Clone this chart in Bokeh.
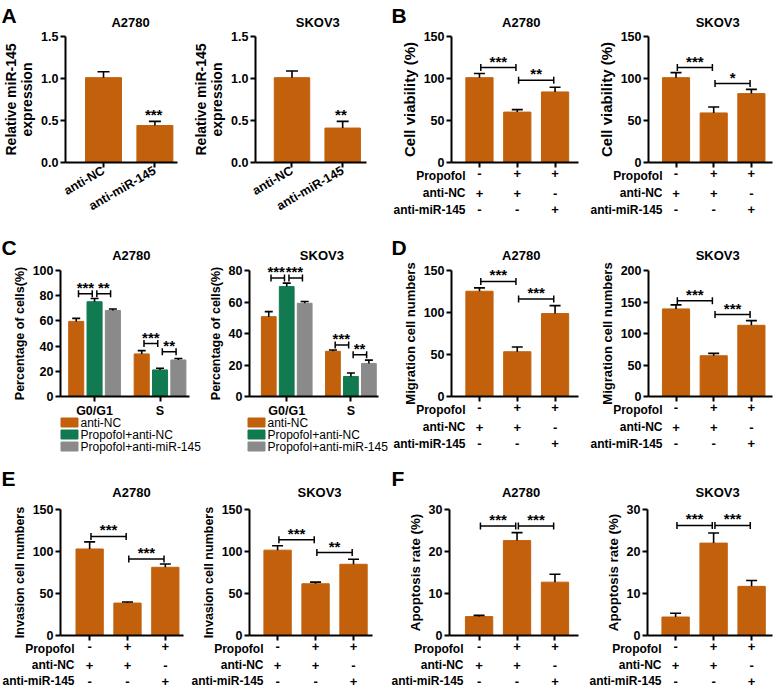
import math
from bokeh.plotting import figure
from bokeh.layouts import row, column
from bokeh.models import Range1d, FixedTicker, ColumnDataSource, NumeralTickFormatter
from bokeh.core.properties import value
from bokeh.embed import file_html
from bokeh.resources import INLINE

FONT = "Liberation Sans"
ORANGE = "#C2600C"
GREEN = "#127A50"
GREY = "#8A8A8A"

# ---------------- data ----------------
TREAT_ROWS = ["Propofol", "anti-NC", "anti-miR-145"]
PROPOFOL = ["-", "+", "+"]
ANTI_NC = ["+", "+", "-"]
ANTI_MIR = ["-", "-", "+"]

# A: relative miR-145 expression
A_GROUPS = ["anti-NC", "anti-miR-145"]
A_TICKS = [0, 0.5, 1.0, 1.5]
A_A2780 = [1.01, 0.44]
A_A2780_ERR = [0.07, 0.05]
A_A2780_SIG = ["", "***"]
A_SKOV3 = [1.01, 0.41]
A_SKOV3_ERR = [0.08, 0.08]
A_SKOV3_SIG = ["", "**"]

# B: cell viability (%)
B_TICKS = [0, 50, 100, 150]
B_A2780 = [101, 60, 84]
B_A2780_ERR = [5, 3, 5.5]
B_A2780_BR = [(0, 1, 113, "***"), (1, 2, 98, "**")]
B_SKOV3 = [101, 59, 82]
B_SKOV3_ERR = [6, 7, 5]
B_SKOV3_BR = [(0, 1, 113, "***"), (1, 2, 94, "*")]

# C: cell cycle distribution
C_PHASES = ["G0/G1", "S"]
C_SERIES = ["anti-NC", "Propofol+anti-NC", "Propofol+anti-miR-145"]
C_COLORS = [ORANGE, GREEN, GREY]
C_A2780_TICKS = [0, 20, 40, 60, 80, 100]
C_A2780_NC = [59.6, 33.8]
C_A2780_NC_ERR = [2.4, 2.6]
C_A2780_PNC = [75.2, 21.1]
C_A2780_PNC_ERR = [2.6, 1.3]
C_A2780_PMIR = [68.3, 29.0]
C_A2780_PMIR_ERR = [1.1, 1.1]
C_A2780_BR = [(0, 0, 1, 81.5, "***"), (0, 1, 2, 81.5, "**"),
              (1, 0, 1, 42.0, "***"), (1, 1, 2, 35.6, "**")]
C_SKOV3_TICKS = [0, 20, 40, 60, 80]
C_SKOV3_NC = [50.7, 28.7]
C_SKOV3_NC_ERR = [3.2, 0.8]
C_SKOV3_PNC = [69.8, 12.7]
C_SKOV3_PNC_ERR = [2.2, 2.2]
C_SKOV3_PMIR = [59.2, 21.0]
C_SKOV3_PMIR_ERR = [1.1, 2.1]
C_SKOV3_BR = [(0, 0, 1, 75.2, "***"), (0, 1, 2, 75.2, "***"),
              (1, 0, 1, 32.7, "***"), (1, 1, 2, 26.5, "**")]

# D: migration
D_A2780_TICKS = [0, 50, 100, 150]
D_A2780 = [125.3, 53.3, 98.7]
D_A2780_ERR = [4.0, 5.6, 9.5]
D_A2780_BR = [(0, 1, 137, "***"), (1, 2, 116, "***")]
D_SKOV3_TICKS = [0, 50, 100, 150, 200]
D_SKOV3 = [139, 64.7, 113]
D_SKOV3_ERR = [6.4, 3.7, 7.4]
D_SKOV3_BR = [(0, 1, 152, "***"), (1, 2, 130, "***")]

# E: invasion
E_TICKS = [0, 50, 100, 150]
E_A2780 = [103, 38.6, 81.2]
E_A2780_ERR = [8.4, 1.2, 4.0]
E_A2780_BR = [(0, 1, 118, "***"), (1, 2, 91, "***")]
E_SKOV3 = [101.6, 61.6, 84.8]
E_SKOV3_ERR = [5.2, 2.0, 6.0]
E_SKOV3_BR = [(0, 1, 114, "***"), (1, 2, 98.8, "**")]

# F: apoptosis
F_TICKS = [0, 10, 20, 30]
F_A2780 = [4.5, 22.6, 12.7]
F_A2780_ERR = [0.3, 1.9, 1.9]
F_A2780_BR = [(0, 1, 26.1, "***"), (1, 2, 26.1, "***")]
F_SKOV3 = [4.4, 22.0, 11.7]
F_SKOV3_ERR = [0.9, 2.4, 1.4]
F_SKOV3_BR = [(0, 1, 26.2, "***"), (1, 2, 26.2, "***")]

# ---------------- helpers ----------------
GAP = 0.035


def make_fig(geom, xr, yticks, ylabel, ylabel_size, yfmt=None):
    w, h, left, right, top, bottom = geom
    p = figure(width=w, height=h, x_range=Range1d(*xr), y_range=Range1d(0, yticks[-1]),
               output_backend="svg", toolbar_location=None, frame_align=False,
               min_border_left=left, min_border_right=right,
               min_border_top=top, min_border_bottom=bottom)
    p.outline_line_color = None
    p.background_fill_color = None
    p.border_fill_color = None
    p.grid.visible = False
    p.yaxis.ticker = FixedTicker(ticks=yticks)
    if yfmt:
        p.yaxis.formatter = NumeralTickFormatter(format=yfmt)
    for ax in (p.xaxis[0], p.yaxis[0]):
        ax.axis_line_width = 2
        ax.axis_line_color = "black"
        ax.major_tick_line_width = 2
        ax.major_tick_line_color = "black"
        ax.major_tick_out = 5
        ax.major_tick_in = 0
        ax.minor_tick_line_color = None
        ax.major_label_text_font = FONT
        ax.major_label_text_font_style = "bold"
        ax.major_label_text_font_size = "12.5px"
        ax.major_label_text_color = "black"
        ax.major_label_standoff = 2
    ya = p.yaxis[0]
    ya.axis_label = ylabel
    ya.axis_label_text_font = FONT
    ya.axis_label_text_font_style = "bold"
    ya.axis_label_text_font_size = ylabel_size
    ya.axis_label_text_color = "black"
    ya.axis_label_standoff = 3
    ya.axis_label_text_line_height = 1.0
    return p


def make_overlay(geom, xr, ymax):
    """Transparent figure laid over a panel; same x scale as the panel frame,
    default y in pixels measured upward from the frame bottom, plus a 'data'
    y range that reproduces the panel's own y scale."""
    w, h, left, right, top, bottom = geom
    fh = h - top - bottom
    ppu = (w - left - right) / (xr[1] - xr[0])
    ext = (xr[0] - left / ppu, xr[1] + right / ppu)
    o = figure(width=w, height=h, x_range=Range1d(*ext), y_range=Range1d(-bottom, h - bottom),
               x_axis_type=None, y_axis_type=None, output_backend="svg", frame_align=False,
               toolbar_location=None, min_border=0, margin=(-h, 0, 0, 0))
    o.extra_y_ranges = {"data": Range1d(-bottom * ymax / fh, (h - bottom) * ymax / fh)}
    o.outline_line_color = None
    o.background_fill_color = None
    o.border_fill_color = None
    return o, ext, ppu


def otext(o, xs, ys, texts, size, align="center", baseline="middle", style="bold",
          x_offset=0, y_offset=0, yname="default"):
    src = ColumnDataSource(dict(x=xs, y=ys, t=texts))
    o.text(x="x", y="y", text="t", source=src, text_font=value(FONT), text_font_style=style,
           text_font_size=size, text_align=align, text_baseline=baseline,
           text_color="black", x_offset=x_offset, y_offset=y_offset, y_range_name=yname)


def add_head(o, ext, xc, title, head, letter):
    otext(o, [xc], [head[0]], [title], "13px", x_offset=4)
    if letter:
        otext(o, [ext[0]], [head[1]], [letter], "21px", align="left", baseline="top", x_offset=1)


def add_bars(p, xs, vals, errs, color, width, cap):
    src = ColumnDataSource(dict(x=xs, top=vals,
                                etop=[v + e for v, e in zip(vals, errs)]))
    p.vbar(x="x", top="top", bottom=0, width=width, source=src,
           fill_color=color, line_color=color)
    p.segment(x0="x", y0="top", x1="x", y1="etop", source=src,
              line_color="black", line_width=1.6)
    p.scatter(x="x", y="etop", source=src, marker="dash", size=cap,
              line_color="black", line_width=1.6)


def add_brackets(p, o, x0s, x1s, ys, labels):
    src = ColumnDataSource(dict(x0=[a + GAP for a in x0s], x1=[b - GAP for b in x1s], y=ys))
    p.segment(x0="x0", y0="y", x1="x1", y1="y", source=src, line_color="black", line_width=1.5)
    for k in ("x0", "x1"):
        p.scatter(x=k, y="y", source=src, marker="dash", angle=math.pi / 2, size=7,
                  line_color="black", line_width=1.5)
    otext(o, [(a + b) / 2 for a, b in zip(x0s, x1s)], ys, labels, "15px",
          baseline="bottom", y_offset=2, yname="data")


def stack(p, o):
    return column(p, o, spacing=0)


def panel_A(geom, xr, vals, errs, sig, title, letter, head):
    xs = list(range(len(A_GROUPS)))
    p = make_fig(geom, xr, A_TICKS, "Relative miR-145\nexpression", "14px", yfmt="0.0")
    p.xaxis.ticker = FixedTicker(ticks=xs)
    p.xaxis.major_label_overrides = {i: g for i, g in enumerate(A_GROUPS)}
    p.xaxis.major_label_orientation = math.radians(30)
    add_bars(p, xs, vals, errs, ORANGE, 0.70, 12)
    o, ext, _ = make_overlay(geom, xr, A_TICKS[-1])
    otext(o, xs, [v + e for v, e in zip(vals, errs)], sig, "15px", baseline="bottom",
          y_offset=2, yname="data")
    add_head(o, ext, (len(xs) - 1) / 2, title, head, letter)
    return stack(p, o)


def panel_3(geom, xr, yticks, ylabel, ylsize, vals, errs, brs, title, letter, head, rows_dy):
    xs = list(range(len(PROPOFOL)))
    p = make_fig(geom, xr, yticks, ylabel, ylsize)
    p.xaxis.ticker = FixedTicker(ticks=xs)
    # the first treatment row is carried by the x-axis tick labels
    p.xaxis.major_label_overrides = {i: s for i, s in enumerate(PROPOFOL)}
    p.xaxis.major_label_text_font_size = "13px"
    p.xaxis.major_label_standoff = 1
    add_bars(p, xs, vals, errs, ORANGE, 0.72, 11)
    o, ext, _ = make_overlay(geom, xr, yticks[-1])
    add_brackets(p, o, [b[0] for b in brs], [b[1] for b in brs], [b[2] for b in brs],
                 [b[3] for b in brs])
    for rowvals, dy in zip([ANTI_NC, ANTI_MIR], rows_dy[1:]):
        otext(o, xs, [-dy] * len(xs), rowvals, "13px")
    otext(o, [xr[0]] * len(TREAT_ROWS), [-d for d in rows_dy], TREAT_ROWS, "12px",
          align="right", x_offset=14)
    add_head(o, ext, (len(xs) - 1) / 2, title, head, letter)
    return stack(p, o)


LEG_DY = [26, 38, 50]   # legend rows, px below the frame


def panel_C(geom, xr, yticks, series_vals, series_errs, brs, title, letter, head):
    p = make_fig(geom, xr, yticks, "Percentage of cells(%)", "12.5px")
    gx = list(range(len(C_PHASES)))
    p.xaxis.ticker = FixedTicker(ticks=gx)
    p.xaxis.major_label_overrides = {i: g for i, g in enumerate(C_PHASES)}
    off = 0.28
    for s, (vals, errs) in enumerate(zip(series_vals, series_errs)):
        xs = [g + (s - 1) * off for g in gx]
        add_bars(p, xs, vals, errs, C_COLORS[s], 0.23, 8)
    o, ext, ppu = make_overlay(geom, xr, yticks[-1])
    add_brackets(p, o, [b[0] + (b[1] - 1) * off for b in brs],
                 [b[0] + (b[2] - 1) * off for b in brs], [b[3] for b in brs], [b[4] for b in brs])
    # legend (swatch + label) under the axis
    lsrc = ColumnDataSource(dict(x=[xr[0] + 9 / ppu] * len(C_SERIES), y=[-d for d in LEG_DY],
                                 c=C_COLORS))
    o.rect(x="x", y="y", width=17, height=9, width_units="screen", height_units="screen",
           fill_color="c", line_color="c", source=lsrc)
    otext(o, [xr[0]] * len(C_SERIES), [-d for d in LEG_DY], C_SERIES, "12px", align="left",
          style="normal", x_offset=20)
    add_head(o, ext, 0.5, title, head, letter)
    return stack(p, o)


# geometry: (width, height, min_border_left, right, top, bottom)
# head: (title middle, letter top) in px above the frame bottom
H1 = (140, 159)
H2 = (141, 161)
H3 = (143.5, 169)
R12 = [13.5, 30.5, 47]
R3 = [13.5, 29.5, 45.5]

row1 = row(
    panel_A((190, 228, 59, 13, 36, 66), (-0.74, 1.44), A_A2780, A_A2780_ERR, A_A2780_SIG, "A2780", "A", H1),
    panel_A((200, 228, 57, 24, 36, 66), (-0.72, 1.47), A_SKOV3, A_SKOV3_ERR, A_SKOV3_SIG, "SKOV3", None, H1),
    panel_3((198, 228, 61, 10, 36, 66), (-0.74, 2.62), B_TICKS, "Cell viability (%)", "15px",
            B_A2780, B_A2780_ERR, B_A2780_BR, "A2780", "B", H1, R12),
    panel_3((188, 228, 60, 4, 36, 66), (-0.73, 2.56), B_TICKS, "Cell viability (%)", "15px",
            B_SKOV3, B_SKOV3_ERR, B_SKOV3_BR, "SKOV3", None, H1, R12), spacing=0)
row2 = row(
    panel_C((205, 230, 60, 16, 42, 62), (-0.52, 1.45), C_A2780_TICKS,
            [C_A2780_NC, C_A2780_PNC, C_A2780_PMIR],
            [C_A2780_NC_ERR, C_A2780_PNC_ERR, C_A2780_PMIR_ERR], C_A2780_BR, "A2780", "C", H2),
    panel_C((185, 230, 42, 12, 42, 62), (-0.58, 1.43), C_SKOV3_TICKS,
            [C_SKOV3_NC, C_SKOV3_PNC, C_SKOV3_PMIR],
            [C_SKOV3_NC_ERR, C_SKOV3_PNC_ERR, C_SKOV3_PMIR_ERR], C_SKOV3_BR, "SKOV3", None, H2),
    panel_3((198, 230, 61, 10, 42, 62), (-0.74, 2.62), D_A2780_TICKS, "Migration cell numbers", "13px",
            D_A2780, D_A2780_ERR, D_A2780_BR, "A2780", "D", H2, R12),
    panel_3((188, 230, 60, 4, 42, 62), (-0.73, 2.56), D_SKOV3_TICKS, "Migration cell numbers", "13px",
            D_SKOV3, D_SKOV3_ERR, D_SKOV3_BR, "SKOV3", None, H2, R12), spacing=0)
row3 = row(
    panel_3((190, 230, 60, 7, 51, 53), (-0.77, 2.48), E_TICKS, "Invasion cell numbers", "12.5px",
            E_A2780, E_A2780_ERR, E_A2780_BR, "A2780", "E", H3, R3),
    panel_3((200, 230, 59, 18, 51, 53), (-0.74, 2.5), E_TICKS, "Invasion cell numbers", "12.5px",
            E_SKOV3, E_SKOV3_ERR, E_SKOV3_BR, "SKOV3", None, H3, R3),
    panel_3((198, 230, 59, 10, 51, 53), (-0.78, 2.62), F_TICKS, "Apoptosis rate (%)", "13.3px",
            F_A2780, F_A2780_ERR, F_A2780_BR, "A2780", "F", H3, R3),
    panel_3((188, 230, 59, 4, 51, 53), (-0.74, 2.55), F_TICKS, "Apoptosis rate (%)", "13.3px",
            F_SKOV3, F_SKOV3_ERR, F_SKOV3_BR, "SKOV3", None, H3, R3), spacing=0)

layout = column(row1, row2, row3, spacing=0)

open("out.html", "w").write(file_html(layout, INLINE))
